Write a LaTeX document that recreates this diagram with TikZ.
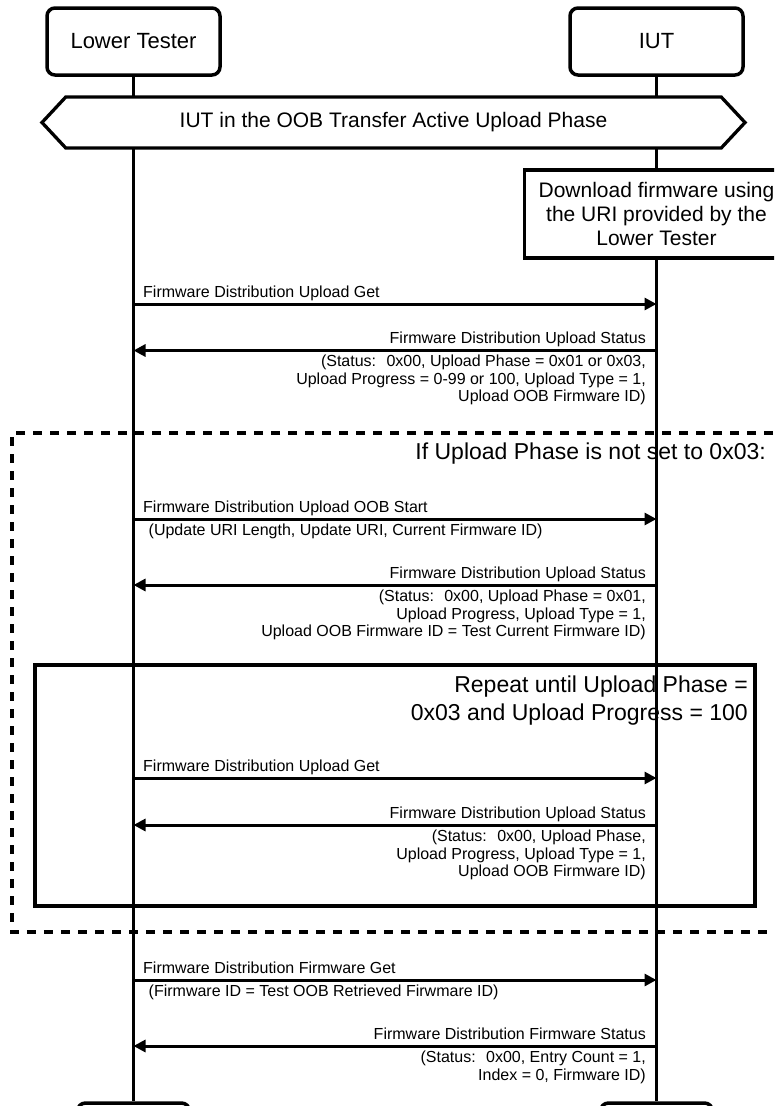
\documentclass[tikz,border=0pt]{standalone}
\usepackage{fontspec}
\setmainfont{Liberation Sans}
\usetikzlibrary{arrows.meta,shapes.symbols}
\begin{document}
\begin{tikzpicture}[x=1pt,y=-1pt,line join=miter,
  lane/.style={line width=3.3pt},
  actor/.style={draw,line width=3.5pt,rounded corners=8pt,minimum width=173pt,
    minimum height=67pt,inner sep=0pt,fill=white,font=\fontsize{22}{26}\selectfont},
  footer/.style={draw,line width=3.5pt,rounded corners=8pt,minimum width=112pt,
    minimum height=67pt,inner sep=0pt,fill=white},
  phasebox/.style={draw,fill=white,line width=3.3pt,signal,signal to=east and west,
    signal pointer angle=94,minimum width=703pt,minimum height=51pt,inner sep=0pt,
    font=\fontsize{21}{24}\selectfont},
  actionbox/.style={draw,fill=white,line width=3.3pt,minimum width=264pt,
    minimum height=88pt,inner sep=0pt,align=center,font=\fontsize{21}{24}\selectfont},
  msg/.style={line width=3pt,-{Triangle[length=12pt,width=12pt]}},
  lbl/.style={inner sep=0pt,font=\fontsize{16}{17.5}\selectfont},
  big/.style={inner sep=0pt,font=\fontsize{23}{28}\selectfont},
  optframe/.style={line width=3.3pt,dash pattern=on 9pt off 8pt},
  loopframe/.style={line width=3.3pt}]

\useasboundingbox (0,0) rectangle (774,1106);
\clip (0,0) rectangle (774,1106);

% participants and their end markers
\node[actor] (lt) at (133.5,41.5) {Lower Tester};
\node[actor] (iut) at (656.5,41.5) {IUT};
\node[footer] (ltend) at (133.5,1136.5) {};
\node[footer] (iutend) at (656.5,1136.5) {};

% lifelines
\draw[lane] (lt.south) -- (ltend.north);
\draw[lane] (iut.south) -- (iutend.north);

% state banner and local action
\node[phasebox] (phase) at (393.5,122.5) {IUT in the OOB Transfer Active Upload Phase};
\node[actionbox] (dl) at (656.5,214) {Download firmware using\\the URI provided by the\\Lower Tester};

% message end points on the two lifelines
\foreach \n/\y in {a/304,b/350.5,c/519,d/585,e/778,f/825,g/980,h/1046}{
  \coordinate (\n L) at (133.5,\y);
  \coordinate (\n R) at (656.5,\y);
}

% optional block and loop frames
\draw[optframe] (790,433) -- (12,433) -- (12,932) -- (790,932);
\node[big,anchor=base east] (cond) at (766,459) {If Upload Phase is not set to 0x03:};
\draw[loopframe] (35,665) rectangle (755,906);
\node[big,anchor=north east,align=right] (rep) at (748,676)
  {Repeat until Upload Phase =\\0x03 and Upload Progress = 100};

% messages
\draw[msg] (aL) -- (aR);
\node[lbl,anchor=base west] (la) at (143,297.5) {Firmware Distribution Upload Get};

\draw[msg] (bR) -- (bL);
\node[lbl,anchor=base east] (lb) at (646,343.5) {Firmware Distribution Upload Status};
\node[lbl,anchor=north east,align=right] (pb) at (646,355)
  {(Status: \ 0x00, Upload Phase = 0x01 or 0x03,\\Upload Progress = 0-99 or 100, Upload Type = 1,\\Upload OOB Firmware ID)};

\draw[msg] (cL) -- (cR);
\node[lbl,anchor=base west] (lc) at (143,512.5) {Firmware Distribution Upload OOB Start};
\node[lbl,anchor=north west] (pc) at (148.5,524) {(Update URI Length, Update URI, Current Firmware ID)};

\draw[msg] (dR) -- (dL);
\node[lbl,anchor=base east] (ld) at (646,578.5) {Firmware Distribution Upload Status};
\node[lbl,anchor=north east,align=right] (pd) at (646,590)
  {(Status: \ 0x00, Upload Phase = 0x01,\\Upload Progress, Upload Type = 1,\\Upload OOB Firmware ID = Test Current Firmware ID)};

\draw[msg] (eL) -- (eR);
\node[lbl,anchor=base west] (le) at (143,771.5) {Firmware Distribution Upload Get};

\draw[msg] (fR) -- (fL);
\node[lbl,anchor=base east] (lf) at (646,818.5) {Firmware Distribution Upload Status};
\node[lbl,anchor=north east,align=right] (pf) at (646,830)
  {(Status: \ 0x00, Upload Phase,\\Upload Progress, Upload Type = 1,\\Upload OOB Firmware ID)};

\draw[msg] (gL) -- (gR);
\node[lbl,anchor=base west] (lg) at (143,973.5) {Firmware Distribution Firmware Get};
\node[lbl,anchor=north west] (pg) at (148.5,985) {(Firmware ID = Test OOB Retrieved Firwmare ID)};

\draw[msg] (hR) -- (hL);
\node[lbl,anchor=base east] (lh) at (646,1039.5) {Firmware Distribution Firmware Status};
\node[lbl,anchor=north east,align=right] (ph) at (646,1051)
  {(Status: \ 0x00, Entry Count = 1,\\Index = 0, Firmware ID)};
\end{tikzpicture}
\end{document}
